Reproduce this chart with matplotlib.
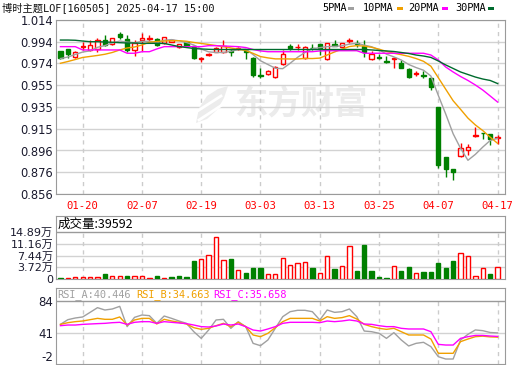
import numpy as np
import matplotlib
matplotlib.use("Agg")
import matplotlib.pyplot as plt
from matplotlib.patches import Rectangle, Polygon

# ---- data ----
dates = ["01-15", "01-16", "01-17", "01-20", "01-21", "01-22", "01-23", "01-24", "01-27",
         "02-05", "02-06", "02-07", "02-10", "02-11", "02-12", "02-13", "02-14", "02-17",
         "02-18", "02-19", "02-20", "02-21", "02-24", "02-25", "02-26", "02-27", "02-28",
         "03-03", "03-04", "03-05", "03-06", "03-07", "03-10", "03-11", "03-12", "03-13",
         "03-14", "03-17", "03-18", "03-19", "03-20", "03-21", "03-24", "03-25", "03-26",
         "03-27", "03-28", "03-31", "04-01", "04-02", "04-03", "04-07", "04-08", "04-09",
         "04-10", "04-11", "04-14", "04-15", "04-16", "04-17"]
date_ticks = ["01-20", "02-07", "02-19", "03-03", "03-13", "03-25", "04-07", "04-17"]

opens = [.9859, .9877, .9801, .9895, .9870, .9874, .9958, .9919, 1.0010, .9965,
         .9865, .9958, .9967, .9965, .9928, .9943, .9895, .9937, .9907, .9783,
         .9822, .9852, .9847, .9858, .9877, .9858, .9798, .9641, .9647, .9620,
         .9738, .9904, .9892, .9792, .9889, .9919, .9786, .9919, .9899, .9952,
         .9928, .9907, .9786, .9807, .9768, .9783, .9747, .9695, .9650, .9641,
         .9611, .9353, .8893, .8784, .8905, .8960, .9087, .9117, .9105, .9066]
highs = [.9862, .9880, .9861, .9940, .9958, .9974, 1.0004, .9980, 1.0028, 1.0004,
         .9958, 1.0019, 1.0004, .9974, .9988, .9965, .9925, .9943, .9913, .9801,
         .9843, .9898, .9958, .9874, .9898, .9868, .9807, .9701, .9686, .9725,
         .9868, .9919, .9919, .9907, .9919, .9922, .9931, .9958, .9934, .9974,
         .9958, .9958, .9858, .9829, .9816, .9801, .9777, .9707, .9677, .9677,
         .9625, .9353, .8893, .8784, .9020, .9014, .9166, .9117, .9105, .9096]
lows = [.9789, .9792, .9792, .9870, .9859, .9852, .9907, .9913, .9967, .9852,
        .9813, .9861, .9943, .9907, .9922, .9937, .9890, .9901, .9783, .9756,
        .9813, .9847, .9838, .9813, .9865, .9783, .9625, .9611, .9641, .9616,
        .9731, .9868, .9865, .9783, .9868, .9818, .9777, .9904, .9895, .9928,
        .9898, .9807, .9777, .9783, .9754, .9707, .9701, .9611, .9634, .9616,
        .9504, .8794, .8712, .8687, .8899, .8914, .9080, .9057, .9005, .9014]
closes = [.9798, .9834, .9852, .9905, .9913, .9956, .9913, .9974, .9988, .9865,
          .9928, .9974, .9980, .9913, .9983, .9958, .9919, .9907, .9798, .9798,
          .9832, .9889, .9907, .9847, .9889, .9847, .9641, .9628, .9677, .9716,
          .9829, .9883, .9898, .9898, .9883, .9883, .9928, .9907, .9927, .9958,
          .9922, .9847, .9829, .9795, .9756, .9798, .9707, .9625, .9656, .9634,
          .9534, .8824, .8784, .8757, .8975, .8990, .9096, .9111, .9057, .9075]

ma5 = [.9790, .9804, .9827, .9849, .9860, .9892, .9908, .9932, .9949, .9939,
       .9934, .9946, .9947, .9932, .9956, .9962, .9951, .9936, .9913, .9876,
       .9851, .9845, .9845, .9855, .9873, .9876, .9826, .9770, .9736, .9702,
       .9698, .9747, .9801, .9845, .9878, .9889, .9898, .9900, .9906, .9921,
       .9928, .9912, .9897, .9870, .9830, .9805, .9777, .9736, .9708, .9684,
       .9631, .9455, .9286, .9107, .8975, .8866, .8920, .8986, .9046, .9066]
ma10 = [.9747, .9763, .9781, .9800, .9809, .9818, .9829, .9845, .9868, .9886,
        .9895, .9913, .9938, .9945, .9949, .9952, .9952, .9947, .9936, .9927,
        .9918, .9908, .9899, .9886, .9874, .9863, .9837, .9808, .9796, .9787,
        .9787, .9786, .9786, .9791, .9790, .9794, .9822, .9850, .9875, .9899,
        .9907, .9903, .9892, .9875, .9855, .9838, .9825, .9810, .9790, .9765,
        .9720, .9616, .9511, .9407, .9329, .9249, .9187, .9136, .9076, .9020]
ma20 = [.9898, .9898, .9898, .9868, .9868, .9868, .9868, .9868, .9868, .9838,
        .9838, .9852, .9852, .9877, .9898, .9898, .9898, .9898, .9898, .9898,
        .9907, .9907, .9904, .9901, .9898, .9890, .9872, .9859, .9852, .9852,
        .9852, .9852, .9852, .9852, .9852, .9859, .9861, .9861, .9861, .9861,
        .9861, .9838, .9838, .9838, .9838, .9838, .9838, .9838, .9838, .9838,
        .9822, .9777, .9713, .9668, .9627, .9591, .9550, .9504, .9450, .9395]
ma30 = [.9958, .9958, .9956, .9949, .9943, .9943, .9940, .9938, .9934, .9931,
        .9931, .9928, .9928, .9928, .9927, .9913, .9899, .9890, .9881, .9877,
        .9874, .9872, .9872, .9872, .9872, .9872, .9872, .9872, .9872, .9872,
        .9872, .9872, .9872, .9872, .9872, .9872, .9872, .9872, .9872, .9872,
        .9872, .9872, .9868, .9863, .9859, .9854, .9845, .9836, .9822, .9813,
        .9800, .9768, .9732, .9700, .9668, .9645, .9622, .9604, .9591, .9563]

# volume in 万
volume = [0.30, 0.25, 0.50, 0.50, 0.50, 0.50, 1.60, 0.95, 0.95, 0.95,
          0.95, 0.95, 0.30, 0.95, 0.30, 0.75, 0.95, 0.75, 5.74, 6.40,
          7.65, 13.30, 5.95, 6.40, 2.87, 2.00, 3.50, 3.50, 1.50, 1.50,
          6.60, 4.40, 5.00, 5.40, 3.50, 1.90, 7.20, 3.20, 4.05, 10.40,
          2.55, 10.85, 2.55, 0.64, 0.30, 4.05, 2.55, 3.80, 1.80, 2.20,
          2.20, 5.10, 3.50, 5.74, 8.30, 7.20, 1.05, 3.40, 1.60, 3.9592]

rsi_a = [52.1, 58.5, 60.8, 62.2, 68.5, 74.9, 71.7, 73.1, 76.7, 49.0,
         61.7, 64.9, 64.0, 53.5, 63.5, 60.3, 56.7, 53.5, 42.1, 33.0,
         44.4, 58.1, 59.0, 46.7, 55.8, 49.0, 26.2, 23.0, 30.8, 46.7,
         62.6, 69.4, 71.3, 71.3, 69.4, 58.1, 71.7, 68.5, 69.4, 73.1,
         62.6, 43.0, 42.1, 39.9, 33.0, 40.8, 30.8, 22.6, 26.2, 27.6,
         21.7, 8.0, 4.8, 4.8, 30.8, 38.5, 44.5, 43.5, 41.0, 40.446]
rsi_b = [52.1, 54.4, 55.8, 56.7, 58.5, 60.3, 59.0, 59.0, 62.2, 51.2,
         58.1, 60.3, 60.3, 52.6, 59.0, 56.7, 54.9, 52.6, 47.6, 45.3,
         46.7, 50.3, 53.5, 49.0, 54.9, 49.0, 37.6, 35.3, 39.9, 47.6,
         55.8, 60.3, 60.3, 60.3, 60.3, 56.7, 62.6, 60.3, 61.3, 64.0,
         59.4, 52.1, 49.0, 46.7, 45.3, 46.7, 42.1, 37.6, 37.6, 37.6,
         32.1, 12.6, 12.6, 12.6, 28.5, 32.1, 35.3, 36.0, 35.0, 34.663]
rsi_c = [50.3, 51.2, 51.2, 52.1, 52.6, 53.1, 53.5, 54.4, 54.9, 52.1,
         54.9, 55.8, 55.8, 53.5, 55.8, 54.9, 54.0, 53.1, 51.2, 49.0,
         48.5, 49.9, 52.6, 51.2, 52.6, 49.0, 44.4, 43.0, 45.8, 49.0,
         53.5, 54.9, 54.9, 54.9, 54.9, 54.4, 56.7, 55.8, 56.7, 58.1,
         56.7, 52.6, 52.1, 50.3, 49.0, 49.0, 46.7, 45.8, 45.8, 45.8,
         42.1, 24.8, 23.9, 23.9, 33.0, 35.3, 37.0, 37.0, 36.2, 35.658]

price_labels = ["0.856", "0.876", "0.896", "0.915", "0.935", "0.955", "0.974", "0.994", "1.014"]
vol_ticks = [0, 3.72, 7.44, 11.16, 14.89]
vol_labels = ["0", "3.72万", "7.44万", "11.16万", "14.89万"]
rsi_ticks = [-2, 41, 84]

# ---- layout ----
W, H = 520, 365
RED, GREEN = "#ff0000", "#008000"
GRAY, ORANGE, MAGENTA, DGREEN = "#a0a0a0", "#f0a000", "#ff00ff", "#006b2e"
SPINE = "#9a9a9a"
MONO = ["DejaVu Sans Mono", "Noto Sans CJK SC"]
SANS = ["DejaVu Sans", "Noto Sans CJK SC"]


def box(l, t, r, b):
    return [l / W, 1 - b / H, (r - l) / W, (b - t) / H]


def fpt(px, py):
    return (px / W, 1 - py / H)


fig = plt.figure(figsize=(W / 100, H / 100), dpi=100)
ax = fig.add_axes(box(56, 20, 505, 194))
axv = fig.add_axes(box(56, 216, 505, 279))
axr = fig.add_axes(box(56, 288, 505, 364))

x = np.arange(len(dates))
o, h, l, c = map(np.array, (opens, highs, lows, closes))
tick_idx = [dates.index(d) for d in date_ticks]
xlim = (-0.6, 60.0)

for a in (ax, axv, axr):
    a.set_xlim(*xlim)
    for s in a.spines.values():
        s.set_color(SPINE)
    a.tick_params(length=0, colors="#222222")
    a.set_facecolor("white")

# ---- main candle panel ----
ax.set_ylim(0.856, 1.014)
ax.set_yticks(np.linspace(0.856, 1.014, 9))
ax.set_yticklabels(price_labels, fontsize=8.3, color="#1a1a2e")
ax.tick_params(axis="y", pad=2)
ax.grid(True, axis="y", color="#d2d2d2", lw=1, ls="-")
ax.set_xticks(tick_idx)
ax.set_xticklabels(date_ticks, color=RED, fontsize=7.6, family=MONO)
ax.tick_params(axis="x", pad=5)
ax.vlines(tick_idx, 0.856, 1.014, colors="#cccccc", lw=1, linestyles=(0, (3, 3)), zorder=1)
ax.set_axisbelow(True)

# watermark: logo mark + name
ax.text(0.546, 0.51, "东方财富", transform=ax.transAxes, ha="center", va="center",
        fontsize=24, fontweight="bold", color="#ebebeb", family=["Noto Sans CJK SC"], zorder=0)
leaf = [fpt(*p) for p in ((196, 123), (199, 108), (207, 96), (218, 89), (228, 86),
                          (224, 98), (217, 110), (207, 119))]
fig.add_artist(Polygon(leaf, closed=True, transform=fig.transFigure,
                       facecolor="#ececec", edgecolor="none", zorder=0.5))
for (x0, y0), (x1, y1) in (((196, 112), (221, 96)), ((199, 120), (225, 103))):
    fig.add_artist(plt.Line2D([x0 / W, x1 / W], [1 - y0 / H, 1 - y1 / H],
                              transform=fig.transFigure, color="white", lw=2, zorder=0.6))

up = c > o
top = np.maximum(o, c)
bot = np.minimum(o, c)
body = np.maximum(top - bot, 0.0006)
cols = np.where(up, RED, GREEN)
ax.vlines(x, top, h, colors=cols, lw=1, zorder=3)
ax.vlines(x, l, bot, colors=cols, lw=1, zorder=3)
ax.bar(x[up], body[up], bottom=bot[up], width=0.58, facecolor="none",
       edgecolor=RED, lw=1, zorder=4)
ax.bar(x[~up], body[~up], bottom=bot[~up], width=0.58, color=GREEN,
       edgecolor=GREEN, lw=1, zorder=4)

for vals, col in ((ma5, GRAY), (ma10, ORANGE), (ma20, MAGENTA), (ma30, DGREEN)):
    ax.plot(x, vals, color=col, lw=1, zorder=5)

# ---- volume panel ----
vmax = 14.89
axv.set_ylim(0, vmax * 63 / 46.7)
axv.set_yticks(vol_ticks)
axv.set_yticklabels(vol_labels, fontsize=8, family=SANS, color="#1a1a2e")
axv.tick_params(axis="y", pad=2)
axv.set_xticks([])
for t in vol_ticks[1:-1]:
    axv.axhline(t, color="#d2d2d2", lw=1, zorder=0)
axv.axhline(vmax, color=SPINE, lw=1, zorder=1)
axv.vlines(tick_idx, 0, vmax, colors="#cccccc", lw=1, linestyles=(0, (3, 3)), zorder=0)
vol = np.array(volume)
vup = np.r_[False, c[1:] >= c[:-1]]
axv.bar(x[vup], vol[vup], width=0.58, facecolor="white", edgecolor=RED, lw=1, zorder=3)
axv.bar(x[~vup], vol[~vup], width=0.58, color=GREEN, edgecolor=GREEN, lw=1, zorder=3)
axv.text(2 / 449, 1 - 8 / 63, "成交量:%d" % round(volume[-1] * 10000), transform=axv.transAxes,
         fontsize=9, family=["Noto Sans CJK SC", "DejaVu Sans"], va="center", ha="left")

# ---- RSI panel ----
axr.set_ylim(-2, 84 + 13 * 86 / 63)
axr.set_yticks(rsi_ticks)
axr.set_yticklabels([str(t) for t in rsi_ticks], fontsize=8.5, color="#1a1a2e")
axr.get_yticklabels()[0].set_va("bottom")
axr.tick_params(axis="y", pad=2)
axr.set_xticks([])
axr.axhline(41, color="#d2d2d2", lw=1, zorder=0)
axr.axhline(84, color=SPINE, lw=1, zorder=1)
axr.vlines(tick_idx, -2, 84, colors="#cccccc", lw=1, linestyles=(0, (3, 3)), zorder=0)
axr.plot(x, rsi_a, color=GRAY, lw=1, zorder=3)
axr.plot(x, rsi_b, color=ORANGE, lw=1, zorder=4)
axr.plot(x, rsi_c, color=MAGENTA, lw=1, zorder=5)
for label, vals, col, px in (("RSI_A", rsi_a, GRAY, 57), ("RSI_B", rsi_b, ORANGE, 136),
                             ("RSI_C", rsi_c, MAGENTA, 213)):
    fig.text(px / W, 1 - 295 / H, "%s:%.3f" % (label, vals[-1]), color=col,
             fontsize=7.4, family=MONO, va="center", ha="left")

# ---- header: title and MA legend ----
fig.text(2 / W, 1 - 8 / H, "博时主题LOF[160505] 2025-04-17 15:00", fontsize=7.4,
         family=MONO, va="center", ha="left", color="#111111")
for name, col, tx, mx in (("5PMA", GRAY, 322, 348), ("10PMA", ORANGE, 363, 397),
                          ("20PMA", MAGENTA, 408, 442), ("30PMA", DGREEN, 455, 488)):
    fig.text(tx / W, 1 - 8 / H, name, fontsize=7.4, family=MONO, va="center", ha="left")
    fig.add_artist(Rectangle((mx / W, 1 - 10 / H), 6 / W, 3 / H, transform=fig.transFigure,
                             color=col, lw=0))

fig.savefig("out.png", dpi=100)
